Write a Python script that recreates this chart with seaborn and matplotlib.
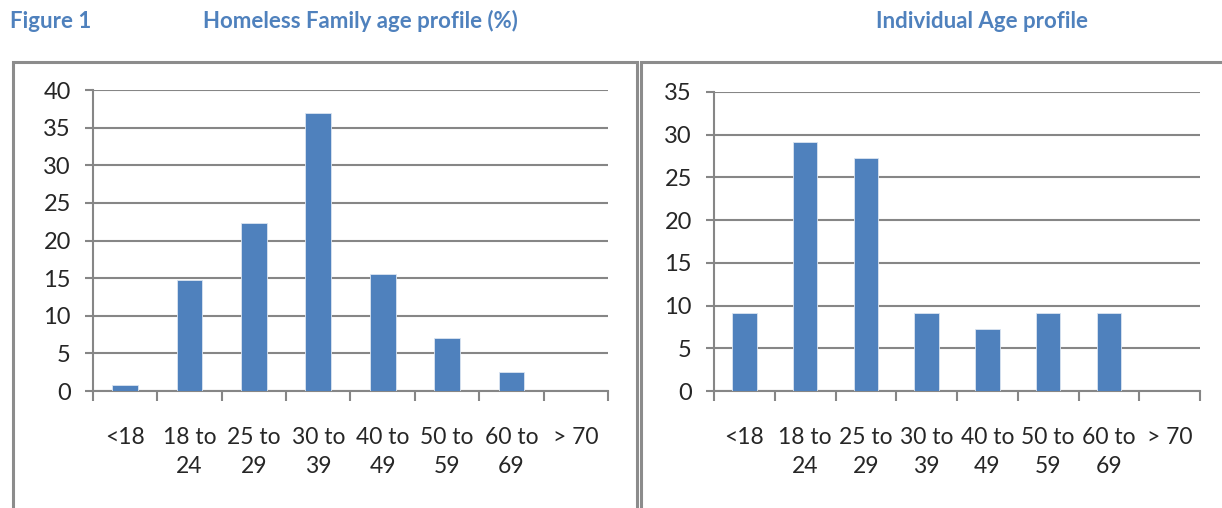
import numpy as np
import pandas as pd
import matplotlib
matplotlib.use("Agg")
import matplotlib.pyplot as plt
from matplotlib.patches import Rectangle
from matplotlib.ticker import FixedLocator
import seaborn as sns

age_groups = ["<18", "18 to\n24", "25 to\n29", "30 to\n39", "40 to\n49",
              "50 to\n59", "60 to\n69", "> 70"]
family_pct = [0.8, 14.7, 22.3, 37.0, 15.6, 7.1, 2.5, 0.0]
individual_pct = [9.1, 29.1, 27.3, 9.1, 7.3, 9.1, 9.1, 0.0]

BAR_COLOR = "#4F81BD"
TITLE_COLOR = "#4F81BD"
GRID_COLOR = "#868686"

sns.set_style("white")
plt.rcParams["font.family"] = ["Lato", "DejaVu Sans"]


def draw_panel(ax, values, ymax):
    df = pd.DataFrame({"age": age_groups, "pct": values})
    sns.barplot(data=df, x="age", y="pct", ax=ax, color=BAR_COLOR, width=0.4,
                saturation=1, edgecolor="#dbe5f1", linewidth=0.6, zorder=3)
    ax.set_xlim(-0.5, len(age_groups) - 0.5)
    ax.set_ylim(0, ymax)
    ax.set_yticks(np.arange(0, ymax + 1, 5))
    ax.yaxis.grid(True, color=GRID_COLOR, linewidth=1.5, zorder=0)
    ax.set_axisbelow(True)
    for s in ["top", "right"]:
        ax.spines[s].set_visible(False)
    for s in ["left", "bottom"]:
        ax.spines[s].set_color(GRID_COLOR)
        ax.spines[s].set_linewidth(1.5)
    ax.xaxis.set_minor_locator(FixedLocator(np.arange(-0.5, len(age_groups), 1.0)))
    ax.tick_params(axis="x", which="major", bottom=True, length=0, pad=26,
                   labelsize=16.5)
    ax.tick_params(axis="x", which="minor", bottom=True, length=7, width=1.5,
                   color=GRID_COLOR, direction="out")
    ax.tick_params(axis="y", left=True, length=6, width=1.5, color=GRID_COLOR,
                   direction="out", labelsize=17, pad=10)
    for lbl in ax.get_xticklabels():
        lbl.set_linespacing(1.45)
        lbl.set_verticalalignment("top")
    ax.set_xlabel("")
    ax.set_ylabel("")


fig = plt.figure(figsize=(12.22, 5.08), dpi=100)
ax1 = fig.add_axes([0.0761, 0.2303, 0.4214, 0.5925])
ax2 = fig.add_axes([0.5843, 0.2303, 0.3977, 0.5886])
draw_panel(ax1, family_pct, 40)
draw_panel(ax2, individual_pct, 35)

# panel frames
fig.add_artist(Rectangle((0.0106, -0.05), 0.5106, 0.928, transform=fig.transFigure,
                         fill=False, edgecolor="#8c8c8c", linewidth=2.2))
fig.add_artist(Rectangle((0.5245, -0.05), 0.52, 0.928, transform=fig.transFigure,
                         fill=False, edgecolor="#8c8c8c", linewidth=2.2))

fig.text(0.0082, 0.958, "Figure 1", color=TITLE_COLOR, fontsize=16,
         fontweight="bold", va="center", ha="left")
fig.text(0.1661, 0.958, "Homeless Family age profile (%)", color=TITLE_COLOR,
         fontsize=16, fontweight="bold", va="center", ha="left")
fig.text(0.7169, 0.958, "Individual Age profile", color=TITLE_COLOR,
         fontsize=16, fontweight="bold", va="center", ha="left")

fig.savefig("out.png", dpi=100)
